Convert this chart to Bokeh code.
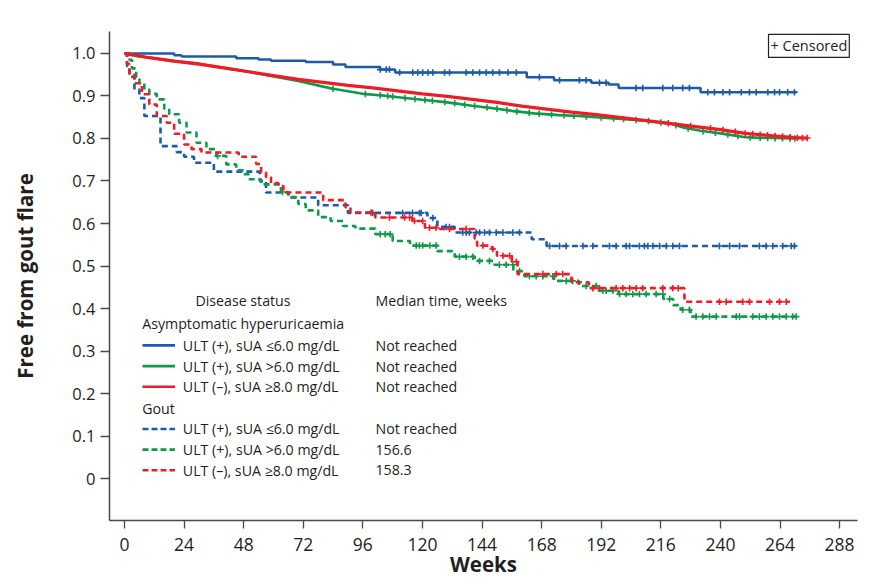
import numpy as np
from bokeh.plotting import figure
from bokeh.models import Range1d, FixedTicker, NumeralTickFormatter, Label, LinearAxis
from bokeh.core.properties import value
from bokeh.embed import file_html
from bokeh.resources import INLINE

# ---------------- data ----------------
x_ticks = [0, 24, 48, 72, 96, 120, 144, 168, 192, 216, 240, 264, 288]
y_ticks = [0, 0.1, 0.2, 0.3, 0.4, 0.5, 0.6, 0.7, 0.8, 0.9, 1.0]

# Asymptomatic hyperuricaemia, ULT(+), sUA <=6.0 (solid blue)
ah_low_t = [0, 20, 23, 45, 54, 59, 73, 84, 89, 103, 109, 162, 173, 188, 195, 199, 232, 270.6]
ah_low_s = [1.0, 0.996, 0.993, 0.989, 0.986, 0.983, 0.980, 0.974, 0.968, 0.962, 0.955, 0.944,
            0.937, 0.931, 0.927, 0.919, 0.909, 0.909]
ah_low_c = [103, 105.4, 106.7, 110.8, 116.1, 118.1, 120.1, 122.2, 124.2, 128.9, 130.9, 137.6,
            140.3, 143, 145.7, 148.3, 151, 154.4, 157.8, 167.1, 175.2, 183.2, 185.9, 191.3, 194,
            206, 208.7, 216.8, 220.8, 224.8, 227.5, 234.9, 237.6, 241, 243.7, 248.4, 251.7,
            254.4, 259.1, 261.8, 263.8, 267.1, 269.8]

# Asymptomatic hyperuricaemia, ULT(+), sUA >6.0 (solid green)
ah_mid_t = [0, 5, 10, 20, 30, 40, 50, 60, 70, 80, 84, 90, 96, 104, 112, 120, 130, 140, 150, 156,
            165, 175, 183, 190, 200, 210, 220, 225, 232, 240, 250, 260, 270.6]
ah_mid_s = [1.0, 0.994, 0.990, 0.982, 0.976, 0.966, 0.957, 0.946, 0.935, 0.922, 0.917, 0.911,
            0.905, 0.901, 0.896, 0.891, 0.885, 0.877, 0.870, 0.865, 0.859, 0.855, 0.853, 0.850,
            0.846, 0.842, 0.835, 0.826, 0.818, 0.812, 0.803, 0.801, 0.800]
ah_mid_c = [84, 97, 103, 106, 108, 113, 117, 121, 124, 129, 133, 137, 141, 146, 150, 154, 158,
            163, 167, 172, 177, 181, 186, 192, 197, 201, 206, 211, 216, 222, 227, 233, 238, 243,
            247, 252, 256, 259, 262, 265, 268, 270]

# Asymptomatic hyperuricaemia, ULT(-), sUA >=8.0 (solid red)
ah_high_t = [0, 5, 10, 20, 30, 40, 50, 60, 70, 80, 90, 100, 110, 120, 130, 140, 150, 160, 170,
             180, 190, 200, 210, 220, 230, 240, 250, 260, 270, 275]
ah_high_s = [1.0, 0.995, 0.990, 0.982, 0.975, 0.966, 0.957, 0.948, 0.939, 0.932, 0.925, 0.919,
             0.912, 0.905, 0.899, 0.892, 0.885, 0.876, 0.869, 0.862, 0.856, 0.849, 0.842, 0.835,
             0.828, 0.821, 0.812, 0.807, 0.802, 0.801]
ah_high_c = [219, 228, 236, 241, 246, 250, 253, 256, 259, 262, 265, 268, 271, 273, 275]

# Gout, ULT(+), sUA <=6.0 (dashed blue)
g_low_t = [0, 1, 2, 4, 6, 8, 14.5, 21, 24, 28, 36, 54.5, 57, 66, 78, 90, 122, 126, 133, 164,
           170, 270.6]
g_low_s = [1.0, 0.970, 0.945, 0.915, 0.895, 0.853, 0.782, 0.768, 0.757, 0.743, 0.722, 0.700,
           0.673, 0.661, 0.643, 0.625, 0.613, 0.592, 0.579, 0.563, 0.547, 0.547]
g_low_c = [100, 112, 116, 118.8, 119.5, 124.2, 129.5, 130.9, 136.2, 137.6, 138.9, 141.6, 143,
           145, 147, 149.7, 152.4, 156.4, 159.1, 171.2, 175.2, 177.9, 184.6, 188.6, 195.3, 198,
           202, 203.4, 207.4, 209.4, 210.8, 212.8, 215.5, 218.2, 220.8, 223.5, 239.6, 243.7,
           247.7, 255.7, 258.4, 261.1, 265.1, 268.5, 269.8]

# Gout, ULT(+), sUA >6.0 (dashed green)
g_mid_t = [0, 2, 3, 4.7, 6, 8, 10, 13, 16, 18, 22, 25, 29, 33, 37, 41, 45, 48, 50, 55, 63, 66,
           70, 73, 78, 83, 88, 93, 101, 108, 115, 126, 133, 141, 149, 156.6, 161, 173, 183, 191,
           199, 217, 221, 224, 228, 270.6]
g_mid_s = [1.0, 0.985, 0.965, 0.940, 0.930, 0.915, 0.905, 0.892, 0.870, 0.857, 0.837, 0.814,
           0.790, 0.775, 0.759, 0.739, 0.725, 0.716, 0.704, 0.692, 0.674, 0.662, 0.646, 0.631,
           0.615, 0.606, 0.594, 0.588, 0.575, 0.559, 0.548, 0.535, 0.522, 0.512, 0.503, 0.488,
           0.476, 0.465, 0.453, 0.442, 0.434, 0.4225, 0.408, 0.397, 0.381, 0.381]
g_mid_c = [37.5, 63.6, 103, 105, 107, 117.5, 118.8, 120.1, 123, 125.5, 134.9, 137.6, 140.3, 143,
           147, 151, 153.7, 156.4, 159.1, 163.1, 165.8, 168.5, 172.5, 177.9, 180.5, 185.9, 190,
           192.6, 194, 196.7, 199.4, 202, 204.7, 207.4, 210.1, 214.1, 216.8, 219.5, 224.8, 227.5,
           230.2, 232.9, 235.6, 238.3, 246.4, 247.7, 253, 255.7, 258.4, 261.1, 263.8, 266.5,
           269.1, 270.5]

# Gout, ULT(-), sUA >=8.0 (dashed red)
g_high_t = [0, 1, 2, 4, 7, 10, 13, 17, 20, 24, 27, 31, 46, 53, 55, 57, 59, 62, 64, 80, 89, 91,
            101, 116, 121, 127, 141, 142, 148, 150, 156, 158.3, 180, 187, 225.5, 268]
g_high_s = [1.0, 0.975, 0.950, 0.930, 0.904, 0.880, 0.853, 0.837, 0.811, 0.786, 0.775, 0.767,
            0.757, 0.740, 0.720, 0.709, 0.695, 0.688, 0.673, 0.655, 0.638, 0.626, 0.614, 0.606,
            0.590, 0.587, 0.565, 0.548, 0.540, 0.524, 0.510, 0.481, 0.462, 0.448, 0.416, 0.416]
g_high_c = [99.3, 106.7, 112.8, 114.8, 116.8, 120.1, 122.8, 125.5, 130.9, 137.6, 144.3, 148.3,
            152.4, 155.1, 157.8, 168.5, 173.9, 176.5, 188.6, 191.3, 198, 200.7, 203.4, 206.1,
            208.7, 216.8, 220.8, 223, 239.6, 242.3, 249, 251.7, 259.8, 263.8, 266.5]

groups = ["Asymptomatic hyperuricaemia", "Gout"]
series_labels = ["ULT (+), sUA \u22646.0 mg/dL", "ULT (+), sUA >6.0 mg/dL", "ULT (\u2013), sUA \u22658.0 mg/dL"]
medians_ah = ["Not reached", "Not reached", "Not reached"]
medians_g = ["Not reached", "156.6", "158.3"]

# ---------------- styling ----------------
BLUE = "#1d5ba9"
GREEN = "#10994a"
RED = "#ee1d25"
INK = "#231f20"
FONT = "Open Sans"

# page-pixel calibration of the reference (for legend / annotation placement)
X0_PX, PX_PER_WEEK = 125.0, 2.483
Y0_PX, PX_PER_UNIT = 480.0, 426.0


def dx(px):
    return (px - X0_PX) / PX_PER_WEEK


def dy(py):
    return (Y0_PX - py) / PX_PER_UNIT


p = figure(width=864, height=580, output_backend="svg", toolbar_location=None,
           x_range=Range1d(dx(110), dx(858)), y_range=Range1d(dy(522), dy(32)),
           min_border_left=109, min_border_right=7, min_border_top=31, min_border_bottom=59)
p.xgrid.visible = False
p.ygrid.visible = False
p.outline_line_color = None
p.background_fill_color = "white"
p.border_fill_color = "white"

for ax in (p.xaxis[0], p.yaxis[0]):
    ax.axis_line_color = "#4a4a4a"
    ax.axis_line_width = 1.5
    ax.major_tick_line_color = "#4a4a4a"
    ax.major_tick_line_width = 1.3
    ax.major_tick_in = 0
    ax.minor_tick_line_color = None
    ax.major_label_text_font = FONT
    ax.major_label_text_color = INK
    ax.axis_label_text_font = FONT
    ax.axis_label_text_font_style = "bold"
    ax.axis_label_text_font_size = "20.5px"
    ax.axis_label_text_color = INK

p.xaxis.ticker = FixedTicker(ticks=x_ticks)
p.xaxis.major_tick_out = 8
p.xaxis.major_label_standoff = 9
p.xaxis.major_label_text_font_size = "17.5px"
p.xaxis.axis_label = "Weeks"
p.xaxis.axis_label_standoff = -4

p.yaxis.ticker = FixedTicker(ticks=y_ticks)
p.yaxis.formatter = NumeralTickFormatter(format="0.0")
p.yaxis.major_label_overrides = {0: "0"}
p.yaxis.major_tick_out = 9
p.yaxis.major_label_standoff = 5
p.yaxis.major_label_text_font_size = "16.5px"

# y-axis title carried by a bare outer axis whose bounds centre it where the reference has it
title_axis = LinearAxis(ticker=FixedTicker(ticks=[]), bounds=(dy(502), dy(32)),
                        axis_line_color=None, major_tick_line_color=None,
                        minor_tick_line_color=None, major_tick_out=0, major_tick_in=0,
                        axis_label="Free from gout flare", axis_label_standoff=31,
                        axis_label_text_font=FONT, axis_label_text_font_style="bold",
                        axis_label_text_font_size="20.5px", axis_label_text_color=INK)
p.add_layout(title_axis, "left")


def step_value(ts, ss, t):
    i = np.searchsorted(np.asarray(ts), np.asarray(t), side="right") - 1
    return np.asarray(ss)[i]


DASH = "6 4"
curves = [
    (g_low_t, g_low_s, g_low_c, BLUE, DASH, 2.6, "step"),
    (g_mid_t, g_mid_s, g_mid_c, GREEN, DASH, 2.6, "step"),
    (g_high_t, g_high_s, g_high_c, RED, DASH, 2.6, "step"),
    (ah_low_t, ah_low_s, ah_low_c, BLUE, "solid", 2.5, "step"),
    (ah_mid_t, ah_mid_s, ah_mid_c, GREEN, "solid", 2.6, "line"),
    (ah_high_t, ah_high_s, ah_high_c, RED, "solid", 3.2, "line"),
]
for ts, ss, cs, col, dash, lw, kind in curves:
    if kind == "step":
        p.step(ts, ss, mode="after", line_color=col, line_width=lw, line_dash=dash)
        cy = step_value(ts, ss, cs)
    else:
        p.line(ts, ss, line_color=col, line_width=lw, line_dash=dash)
        cy = np.interp(cs, ts, ss)
    p.scatter(cs, cy, marker="cross", size=6.5, line_width=1.6, line_color=col)

# ---------------- legend (drawn as text + sample lines) ----------------
txt = dict(text_font=value(FONT), text_font_size="14.2px", text_color=INK,
           text_baseline="middle")
p.text([dx(243.5)], [dy(301.7)], text=["Disease status"], text_align="center", **txt)
p.text([dx(376)], [dy(301.7)], text=["Median time, weeks"], text_align="left", **txt)

row_y = [[346.5, 367.3, 388.0], [430.3, 451.0, 471.7]]
head_y = [325.0, 409.5]
colors = [BLUE, GREEN, RED]
for gi, (grp, meds, dash) in enumerate([(groups[0], medians_ah, "solid"),
                                        (groups[1], medians_g, "6 3")]):
    p.text([dx(142.7)], [dy(head_y[gi])], text=[grp], text_align="left", **txt)
    for k in range(3):
        yy = dy(row_y[gi][k])
        p.line([dx(143), dx(175.5)], [yy, yy], line_color=colors[k], line_width=2.6,
               line_dash=dash)
        p.text([dx(183.3)], [yy], text=[series_labels[k]], text_align="left", **txt)
        p.text([dx(376)], [yy], text=[meds[k]], text_align="left", **txt)

# "+ Censored" box
p.add_layout(Label(x=dx(769), y=dy(46.5), text="+ Censored", text_font=FONT,
                   text_font_size="14.5px", text_color=INK, text_baseline="middle",
                   text_align="left", padding=2, border_line_color=INK,
                   border_line_width=1.2, background_fill_color="white"))

open("out.html", "w").write(file_html(p, INLINE))
